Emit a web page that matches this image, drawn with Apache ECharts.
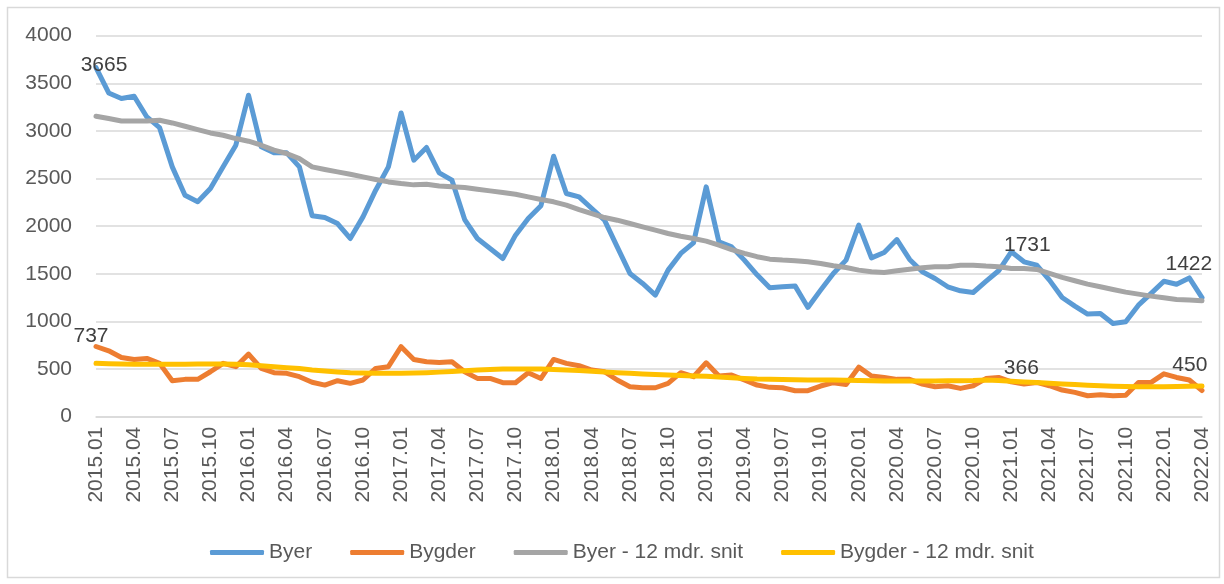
<!DOCTYPE html>
<html>
<head>
<meta charset="utf-8">
<script src="https://cdn.jsdelivr.net/npm/echarts@6/dist/echarts.min.js"></script>
<style>
  html, body { margin: 0; padding: 0; background: #ffffff; }
  #chart { width: 1224px; height: 584px; }
</style>
</head>
<body>
<div id="chart"></div>
<script>
// Months 2015.01 .. 2022.04
const categories = [
  '2015.01','2015.02','2015.03','2015.04','2015.05','2015.06','2015.07','2015.08','2015.09','2015.10','2015.11','2015.12',
  '2016.01','2016.02','2016.03','2016.04','2016.05','2016.06','2016.07','2016.08','2016.09','2016.10','2016.11','2016.12',
  '2017.01','2017.02','2017.03','2017.04','2017.05','2017.06','2017.07','2017.08','2017.09','2017.10','2017.11','2017.12',
  '2018.01','2018.02','2018.03','2018.04','2018.05','2018.06','2018.07','2018.08','2018.09','2018.10','2018.11','2018.12',
  '2019.01','2019.02','2019.03','2019.04','2019.05','2019.06','2019.07','2019.08','2019.09','2019.10','2019.11','2019.12',
  '2020.01','2020.02','2020.03','2020.04','2020.05','2020.06','2020.07','2020.08','2020.09','2020.10','2020.11','2020.12',
  '2021.01','2021.02','2021.03','2021.04','2021.05','2021.06','2021.07','2021.08','2021.09','2021.10','2021.11','2021.12',
  '2022.01','2022.02','2022.03','2022.04'
];

const byer = [
  3665,3399,3340,3364,3147,3035,2623,2325,2256,2395,2623,2850,
  3375,2833,2770,2770,2623,2110,2091,2028,1871,2098,2378,2623,
  3189,2693,2826,2560,2483,2070,1871,1766,1661,1906,2081,2215,
  2735,2343,2308,2186,2063,1783,1504,1399,1276,1539,1714,1825,
  2413,1836,1783,1644,1490,1353,1364,1371,1147,1329,1504,1644,
  2011,1668,1724,1860,1651,1521,1451,1364,1322,1304,1420,1532,
  1731,1626,1591,1434,1252,1161,1077,1084,979,997,1171,1294,
  1422,1390,1457,1250
];

const bygder = [
  737,692,622,601,612,560,378,392,392,472,560,525,
  657,507,462,455,420,362,332,378,350,385,507,525,
  735,601,577,570,577,472,402,402,357,357,462,402,
  601,560,535,490,472,385,315,304,304,350,462,420,
  566,427,437,385,332,308,304,273,273,322,357,339,
  520,427,413,392,392,343,315,325,297,325,400,412,
  366,343,360,325,280,255,220,230,220,226,360,360,
  450,412,385,275
];

const byer12 = [
  3154,3130,3105,3105,3105,3112,3084,3049,3014,2979,2955,2920,
  2892,2850,2798,2763,2710,2623,2595,2570,2546,2518,2490,2465,
  2448,2434,2441,2423,2413,2406,2388,2371,2353,2336,2308,2280,
  2256,2221,2175,2133,2091,2063,2028,1993,1958,1923,1895,1871,
  1843,1801,1755,1714,1680,1654,1644,1637,1626,1609,1584,1567,
  1539,1521,1514,1532,1549,1563,1574,1574,1591,1591,1581,1574,
  1556,1556,1546,1504,1462,1427,1392,1364,1336,1308,1287,1266,
  1248,1231,1224,1217
];

const bygder12 = [
  560,555,552,550,550,550,550,551,552,552,552,550,
  545,535,525,515,505,490,480,470,462,458,455,455,
  455,458,462,468,475,482,490,495,500,502,502,500,
  495,490,485,478,470,462,455,448,442,438,432,428,
  425,418,410,402,395,392,390,388,386,385,384,382,
  380,378,376,375,375,375,376,377,378,380,385,380,
  372,365,358,350,343,337,330,325,320,316,314,314,
  315,317,320,322
];

const seriesNames = ['Byer', 'Bygder', 'Byer - 12 mdr. snit', 'Bygder - 12 mdr. snit'];
const seriesColors = ['#5B9BD5', '#ED7D31', '#A5A5A5', '#FFC000'];

// indices of points that carry a value label, with label nudges [dx, dy]
const byerLabels = { 0: [8, 8], 72: [16, 4], 84: [25, -7] };
const bygderLabels = { 0: [-5, 0], 72: [10, -3], 84: [26, 2] };

const FONT = "'Liberation Sans', Arial, sans-serif";

function withLabels(values, labels) {
  return values.map(function (v, i) {
    if (labels[i]) {
      return {
        value: v,
        label: {
          show: true,
          position: 'top',
          distance: 0,
          offset: labels[i],
          color: '#404040',
          fontSize: 21,
          fontFamily: FONT
        }
      };
    }
    return v;
  });
}

const dataSets = [
  withLabels(byer, byerLabels),
  withLabels(bygder, bygderLabels),
  byer12,
  bygder12
];

const chart = echarts.init(document.getElementById('chart'), null, { renderer: 'canvas' });

const option = {
  animation: false,
  backgroundColor: '#ffffff',
  graphic: [{
    type: 'rect',
    shape: { x: 7.5, y: 7.5, width: 1212, height: 570 },
    style: { fill: 'none', stroke: '#D9D9D9', lineWidth: 1.5 },
    silent: true,
    z: -10
  }],
  grid: { left: 96, right: 22, top: 35.7, bottom: 167.3, containLabel: false },
  legend: {
    data: seriesNames,
    left: 205,
    top: 537,
    icon: 'roundRect',
    itemWidth: 54,
    itemHeight: 5,
    itemGap: 38,
    textStyle: { color: '#595959', fontSize: 21, fontFamily: FONT }
  },
  xAxis: {
    type: 'category',
    data: categories,
    boundaryGap: false,
    axisLine: { show: true, lineStyle: { color: '#D9D9D9', width: 1.5 } },
    axisTick: { show: false },
    axisLabel: {
      interval: 2,
      rotate: 90,
      margin: 10,
      color: '#595959',
      fontSize: 21,
      fontFamily: FONT
    },
    splitLine: { show: false }
  },
  yAxis: {
    type: 'value',
    min: 0,
    max: 4000,
    interval: 500,
    axisLine: { show: false },
    axisTick: { show: false },
    axisLabel: {
      margin: 24,
      color: '#595959',
      fontSize: 21,
      fontFamily: FONT,
      formatter: function (v) { return String(v); }
    },
    splitLine: { show: true, lineStyle: { color: '#D9D9D9', width: 1.5 } }
  },
  series: seriesNames.map(function (name, k) {
    return {
      name: name,
      type: 'line',
      data: dataSets[k],
      symbol: 'circle',
      symbolSize: 0,
      showSymbol: true,
      color: seriesColors[k],
      lineStyle: { color: seriesColors[k], width: 5, cap: 'round', join: 'round' },
      itemStyle: { color: seriesColors[k] },
      label: { show: false },
      z: 2 + k
    };
  })
};

chart.setOption(option);
</script>
</body>
</html>
